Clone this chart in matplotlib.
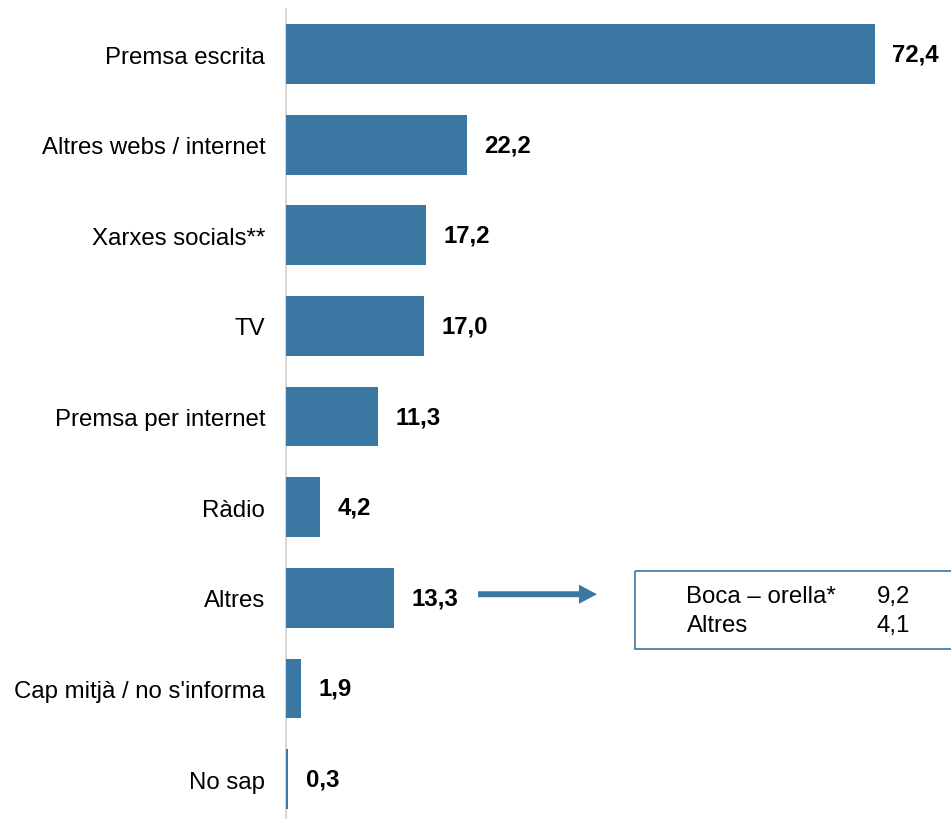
import numpy as np
from matplotlib import pyplot as plt
from matplotlib.patches import Rectangle, FancyArrow

plt.rcParams['font.family'] = ['Liberation Sans', 'DejaVu Sans']

categories = ['Premsa escrita', 'Altres webs / internet', 'Xarxes socials**', 'TV',
              'Premsa per internet', 'Ràdio', 'Altres', "Cap mitjà / no s'informa", 'No sap']
values = [72.4, 22.2, 17.2, 17.0, 11.3, 4.2, 13.3, 1.9, 0.3]

detail_labels = ['Boca – orella*', 'Altres']
detail_values = [9.2, 4.1]

blue = '#3a77a2'

fig = plt.figure(figsize=(9.51, 8.2), dpi=100)
ax = fig.add_axes([286 / 951, 0, 665 / 951, 810 / 820])

y = np.arange(len(categories))
ax.barh(y, values, height=0.66, color=blue, zorder=3)

for yi, v in zip(y, values):
    ax.text(v + 2.1, yi, f'{v:.1f}'.replace('.', ','), va='center', ha='left',
            fontsize=17.3, fontweight='bold')

ax.set_xlim(0, 81.7)
ax.set_ylim(8.44, -0.497)
ax.set_yticks(y)
ax.set_yticklabels(categories, fontsize=17.3)
ax.tick_params(axis='y', length=0, pad=15)
ax.set_xticks([])
for s in ['top', 'right', 'bottom']:
    ax.spines[s].set_visible(False)
ax.spines['left'].set_color('#d9d9d9')
ax.spines['left'].set_linewidth(1.5)

# arrow to the breakdown box
ax.add_patch(FancyArrow(23.6, 5.96, 12.4, 0, width=0.066, head_width=0.21,
                        head_length=2.2, length_includes_head=False,
                        color=blue, lw=0))

ax.add_patch(Rectangle((42.9, 5.706), 50, 0.861, fill=False, edgecolor=blue, lw=1.2))
for i, (lab, val) in enumerate(zip(detail_labels, detail_values)):
    yy = 5.982 + i * 0.32
    ax.text(49.2, yy, lab, va='center', ha='left', fontsize=17.3)
    ax.text(72.6, yy, f'{val:.1f}'.replace('.', ','), va='center', ha='left', fontsize=17.3)

plt.savefig('out.png', dpi=100)
